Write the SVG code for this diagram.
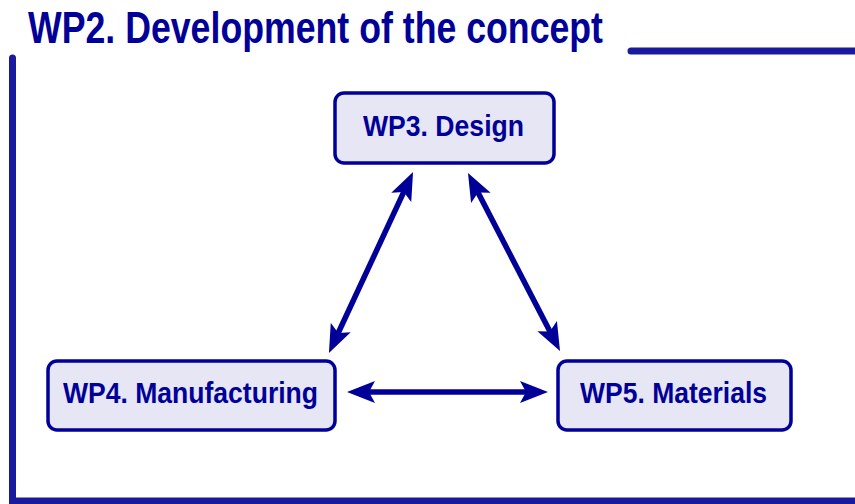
<svg xmlns="http://www.w3.org/2000/svg" width="855" height="504" viewBox="0 0 855 504">
  <style>
    .title { font-family: "Liberation Sans Narrow", "Liberation Sans", Arial, sans-serif; font-weight: bold; font-size: 44px; fill: #000099; }
    .label { font-family: "Liberation Sans Narrow", "Liberation Sans", Arial, sans-serif; font-weight: bold; font-size: 30px; fill: #000099; }
    .box { fill: #E6E6F5; stroke: #000099; stroke-width: 3.5; }
    .frame { stroke: #1A1AA0; stroke-width: 7; fill: none; }
    .link { stroke: #000099; stroke-width: 5.5; fill: none; marker-start: url(#head); marker-end: url(#head); }
  </style>
  <defs>
    <marker id="head" markerUnits="userSpaceOnUse" viewBox="0 -12 30 24" refX="16" refY="0" markerWidth="30" markerHeight="24" orient="auto-start-reverse">
      <path d="M0,-11 L28,0 L0,11 L6,0 Z" fill="#000099"/>
    </marker>
  </defs>

  <rect width="855" height="504" fill="#ffffff"/>

  <!-- section frame -->
  <g id="frame">
    <line class="frame" x1="631" y1="51" x2="860" y2="51" stroke-linecap="round" stroke-width="6"/>
    <path class="frame" d="M12.5,58 V501 H860" stroke-linecap="round"/>
  </g>

  <text class="title" x="28" y="43" textLength="575" lengthAdjust="spacingAndGlyphs">WP2. Development of the concept</text>

  <!-- connectors -->
  <g id="connectors">
    <line class="link" x1="408" y1="182.9" x2="334" y2="342"/>
    <line class="link" x1="473.5" y1="183.7" x2="554.5" y2="340.3"/>
    <line class="link" x1="359" y1="392" x2="536" y2="392"/>
  </g>

  <g id="wp3">
    <rect class="box" x="335" y="93" width="219" height="70" rx="9"/>
    <text class="label" x="363" y="136" textLength="161" lengthAdjust="spacingAndGlyphs">WP3. Design</text>
  </g>

  <g id="wp4">
    <rect class="box" x="48" y="361" width="287" height="69" rx="9"/>
    <text class="label" x="63" y="403" textLength="255" lengthAdjust="spacingAndGlyphs">WP4. Manufacturing</text>
  </g>

  <g id="wp5">
    <rect class="box" x="558" y="361" width="233" height="69" rx="9"/>
    <text class="label" x="580" y="403" textLength="187" lengthAdjust="spacingAndGlyphs">WP5. Materials</text>
  </g>
</svg>
